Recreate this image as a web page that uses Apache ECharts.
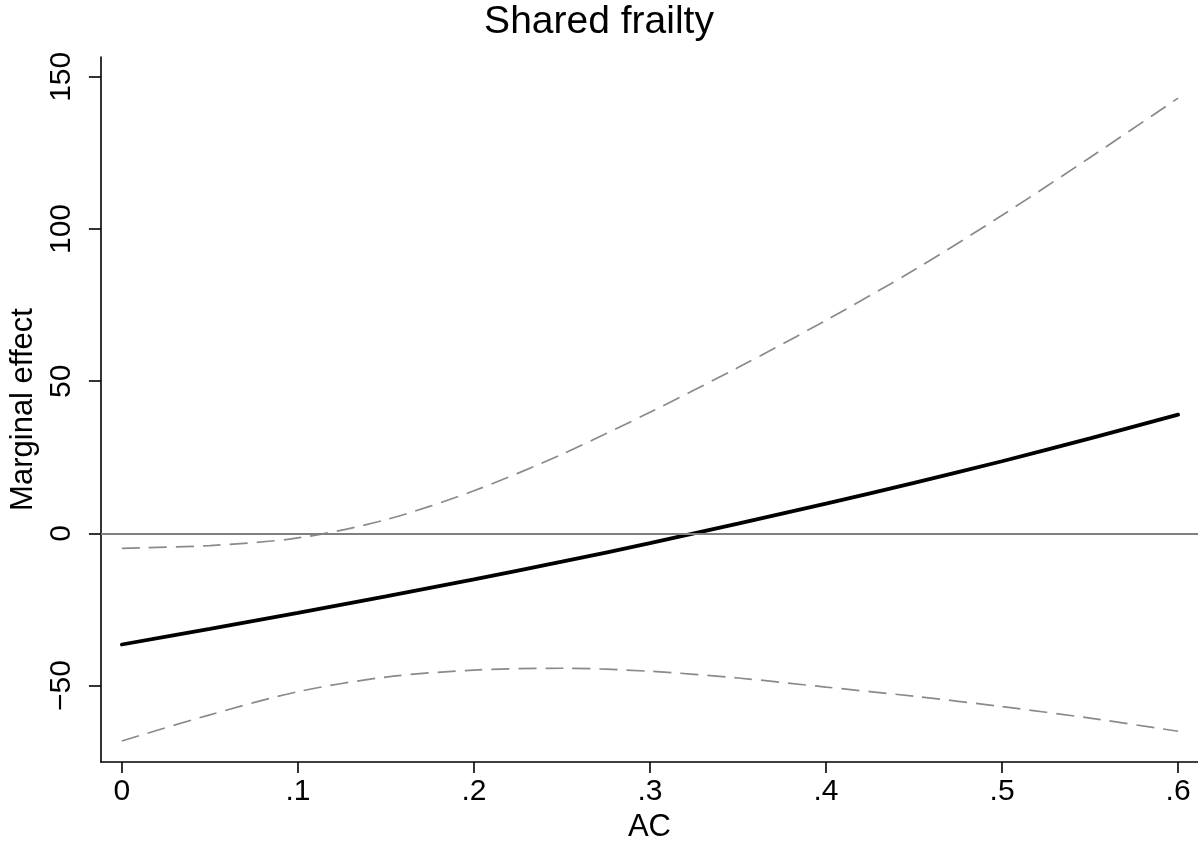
<!DOCTYPE html>
<html>
<head>
<meta charset="utf-8">
<title>Shared frailty</title>
<script src="https://cdn.jsdelivr.net/npm/echarts@6/dist/echarts.min.js"></script>
<style>
  html, body { margin: 0; padding: 0; background: #fff; }
  #chart { width: 1198px; height: 848px; }
</style>
</head>
<body>
<div id="chart"></div>
<script>
// AC grid and the estimated marginal effect with its confidence band
const acValues = [0, 0.05, 0.1, 0.15, 0.2, 0.25, 0.3, 0.35, 0.4, 0.45, 0.5, 0.55, 0.6];
const marginalEffect = [-36.5, -31.4, -26.1, -20.7, -15.1, -9.3, -3.2, 3.2, 9.8, 16.6, 23.7, 31.2, 39.0];
const upperBound = [-4.9, -4.0, -1.5, 4.5, 14.0, 26.0, 39.8, 54.5, 70.0, 86.5, 104.5, 123.5, 143.0];
const lowerBound = [-68.2, -59.6, -52.0, -47.2, -44.9, -44.3, -45.3, -47.5, -50.5, -53.5, -56.9, -60.7, -65.0];

// Axis ticks and their printed labels
const xTickValues = [0, 0.1, 0.2, 0.3, 0.4, 0.5, 0.6];
const xTickLabels = ['0', '.1', '.2', '.3', '.4', '.5', '.6'];
const yTickValues = [-50, 0, 50, 100, 150];
const yTickLabels = ['\u221250', '0', '50', '100', '150'];

const FONT = 'Liberation Sans, Arial, Helvetica, sans-serif';

function pairs(xs, ys) {
  return xs.map((x, i) => [x, ys[i]]);
}
function xLabel(v) {
  const i = xTickValues.findIndex(t => Math.abs(t - v) < 1e-9);
  return i >= 0 ? xTickLabels[i] : '';
}
function yLabel(v) {
  const i = yTickValues.findIndex(t => Math.abs(t - v) < 1e-9);
  return i >= 0 ? yTickLabels[i] : '';
}

const chart = echarts.init(document.getElementById('chart'), null, { renderer: 'canvas' });

const bandStyle = { color: '#8a8a8a', width: 1.7, type: [18, 9] };

chart.setOption({
  animation: false,
  backgroundColor: '#ffffff',
  title: {
    text: 'Shared frailty',
    left: 'center',
    top: 3,
    padding: 0,
    textStyle: { fontFamily: FONT, fontSize: 39, fontWeight: 'normal', color: '#000' }
  },
  grid: { left: 99, right: 0, top: 57, bottom: 86, containLabel: false },
  xAxis: {
    type: 'value',
    min: -0.0119,
    max: 0.6113,
    name: 'AC',
    nameLocation: 'middle',
    nameGap: 49,
    nameTextStyle: { fontFamily: FONT, fontSize: 31, color: '#000' },
    axisLine: { show: true, onZero: false, lineStyle: { color: '#000', width: 1.6 } },
    axisTick: { show: true, length: 11, customValues: xTickValues, lineStyle: { color: '#000', width: 1.6 } },
    axisLabel: {
      customValues: xTickValues,
      formatter: xLabel,
      margin: 15,
      fontFamily: FONT, fontSize: 30, color: '#000'
    },
    splitLine: { show: false }
  },
  yAxis: {
    type: 'value',
    min: -75.1,
    max: 156.5,
    name: 'Marginal effect',
    nameLocation: 'middle',
    nameRotate: 90,
    nameGap: 60,
    nameTextStyle: { fontFamily: FONT, fontSize: 31, color: '#000' },
    axisLine: { show: true, onZero: false, lineStyle: { color: '#000', width: 1.6 } },
    axisTick: { show: true, length: 12, customValues: yTickValues, lineStyle: { color: '#000', width: 1.6 } },
    axisLabel: {
      customValues: yTickValues,
      formatter: yLabel,
      rotate: 90,
      margin: 24,
      fontFamily: FONT, fontSize: 30, color: '#000'
    },
    splitLine: { show: false }
  },
  series: [
    {
      // zero reference line across the whole plot region
      type: 'line',
      z: 1,
      data: [],
      silent: true,
      markLine: {
        silent: true,
        symbol: 'none',
        label: { show: false },
        lineStyle: { color: '#808080', width: 2.2, type: 'solid' },
        data: [{ yAxis: 0 }]
      }
    },
    {
      name: 'Upper bound',
      type: 'line',
      z: 2,
      data: pairs(acValues, upperBound),
      smooth: 0.3,
      showSymbol: false,
      lineStyle: bandStyle
    },
    {
      name: 'Lower bound',
      type: 'line',
      z: 2,
      data: pairs(acValues, lowerBound),
      smooth: 0.3,
      showSymbol: false,
      lineStyle: bandStyle
    },
    {
      name: 'Marginal effect',
      type: 'line',
      z: 3,
      data: pairs(acValues, marginalEffect),
      smooth: 0.3,
      showSymbol: false,
      lineStyle: { color: '#000', width: 3.8, cap: 'round' }
    }
  ]
});
</script>
</body>
</html>
